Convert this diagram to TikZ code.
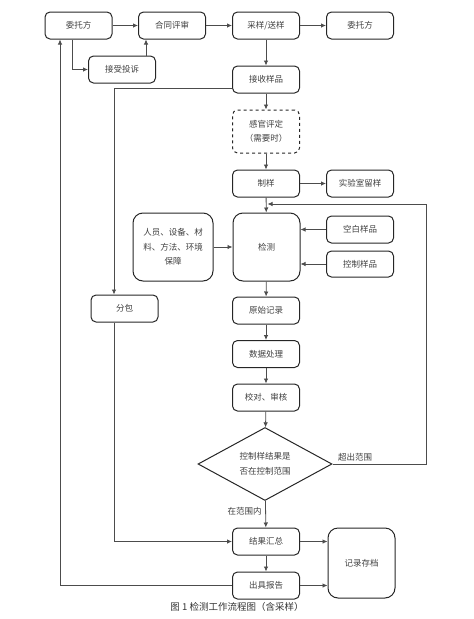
\documentclass[tikz,border=0pt]{standalone}
\usepackage{fontspec}
\newfontfamily\cjk{Noto Sans CJK SC}
\usetikzlibrary{shapes.geometric}
\usetikzlibrary{arrows.meta}
\tikzset{
  flowbox/.style={draw=black!85,line width=1pt,rounded corners=5pt,
    minimum width=67pt,minimum height=27pt,inner sep=2pt,align=center,
    text=black!75,font=\cjk\fontsize{8.5}{14.5}\selectfont},
  bigbox/.style={flowbox,rounded corners=10pt},
  judge/.style={draw=black!85,line width=1pt,diamond,aspect=1.84,
    minimum width=134pt,minimum height=73pt,inner sep=0pt,align=center,
    text=black!75,font=\cjk\fontsize{8.5}{14.5}\selectfont},
  link/.style={draw=black!70,line width=0.8pt,-{Latex[length=5pt,width=4.5pt]}},
  tag/.style={text=black!75,font=\cjk\fontsize{8.5}{12}\selectfont}}

\begin{document}
\begin{tikzpicture}[x=1pt,y=-1pt]
  \useasboundingbox (0,0) rectangle (474,619);
  % top row
  \node [flowbox] (client) at (78.5,25.5) {委托方};
  \node [flowbox] (review) at (172,25.5) {合同评审};
  \node [flowbox] (sampling) at (266,25.5) {采样/送样};
  \node [flowbox] (client2) at (360,25.5) {委托方};
  \node [flowbox] (complaint) at (122,69.5) {接受投诉};
  % main column
  \node [flowbox] (receive) at (266,79.5) {接收样品};
  \node [flowbox,dashed,minimum height=43pt] (sensory) at (266,131.5) {感官评定\\（需要时）};
  \node [flowbox] (prep) at (266,183.5) {制样};
  \node [flowbox] (retain) at (360,183.5) {实验室留样};
  \node [bigbox,minimum height=68pt] (test) at (266.5,247) {检测};
  \node [bigbox,minimum width=80pt,minimum height=68pt] (support) at (173,247) {人员、设备、材\\料、方法、环境\\保障};
  \node [flowbox] (blank) at (360,229.5) {空白样品};
  \node [flowbox,minimum height=26pt] (control) at (360,264) {控制样品};
  \node [flowbox] (subcon) at (124.5,308.5) {分包};
  \node [flowbox] (record) at (266,310.5) {原始记录};
  \node [flowbox] (process) at (266,354) {数据处理};
  \node [flowbox] (check) at (266,397.5) {校对、审核};
  \node [judge] (decide) at (265,464) {控制样结果是\\否在控制范围};
  \node [flowbox] (summary) at (266,541.5) {结果汇总};
  \node [flowbox] (report) at (266,585.5) {出具报告};
  \node [bigbox,minimum height=70pt] (archive) at (361.5,563) {记录存档};
  \node [tag] (outside) at (355,457) {超出范围};
  \node [tag] (inside) at (244.5,511) {在范围内};
  \node [font=\cjk\fontsize{9.5}{12}\selectfont,text=black!80] (caption) at (237,607) {图 1\ 检测工作流程图（含采样）};
  \coordinate (loop) at (426,204);
  % connectors
  \draw [link] (client) -- (review);
  \draw [link] (review) -- (sampling);
  \draw [link] (sampling) -- (client2);
  \draw [link] ([xshift=-6.5pt]client.south) |- (complaint.west);
  \draw [link] ([xshift=24pt]complaint.north) -- ([xshift=24pt]complaint.north |- review.south);
  \draw [link] (sampling) -- (receive);
  \draw [link] (receive) -- (sensory);
  \draw [link] (sensory) -- (prep);
  \draw [link] (prep) -- (retain);
  \draw [link] (prep) -- (test);
  \draw [link] (support) -- (test);
  \draw [link] (blank.west) -- (blank.west -| test.east);
  \draw [link] (control.west) -- (control.west -| test.east);
  \draw [link] (test) -- (record);
  \draw [link] (record) -- (process);
  \draw [link] (process) -- (check);
  \draw [link] (check) -- (decide);
  \draw [link] (decide) -- (summary);
  \draw [link] (decide.east) -| (loop) -- ([xshift=1pt]loop -| test.north);
  \draw [link] ([yshift=-8.5pt]receive.west) -| ([xshift=-10.5pt]subcon.north);
  \draw [link] ([xshift=-10.5pt]subcon.south) |- (summary.west);
  \draw [link] (summary) -- (report);
  \draw [link] (summary.east) -- (summary.east -| archive.west);
  \draw [link] (report.east) -- (report.east -| archive.west);
  \draw [link] (report.west) -| ([xshift=-18.5pt]client.south);
\end{tikzpicture}
\end{document}
